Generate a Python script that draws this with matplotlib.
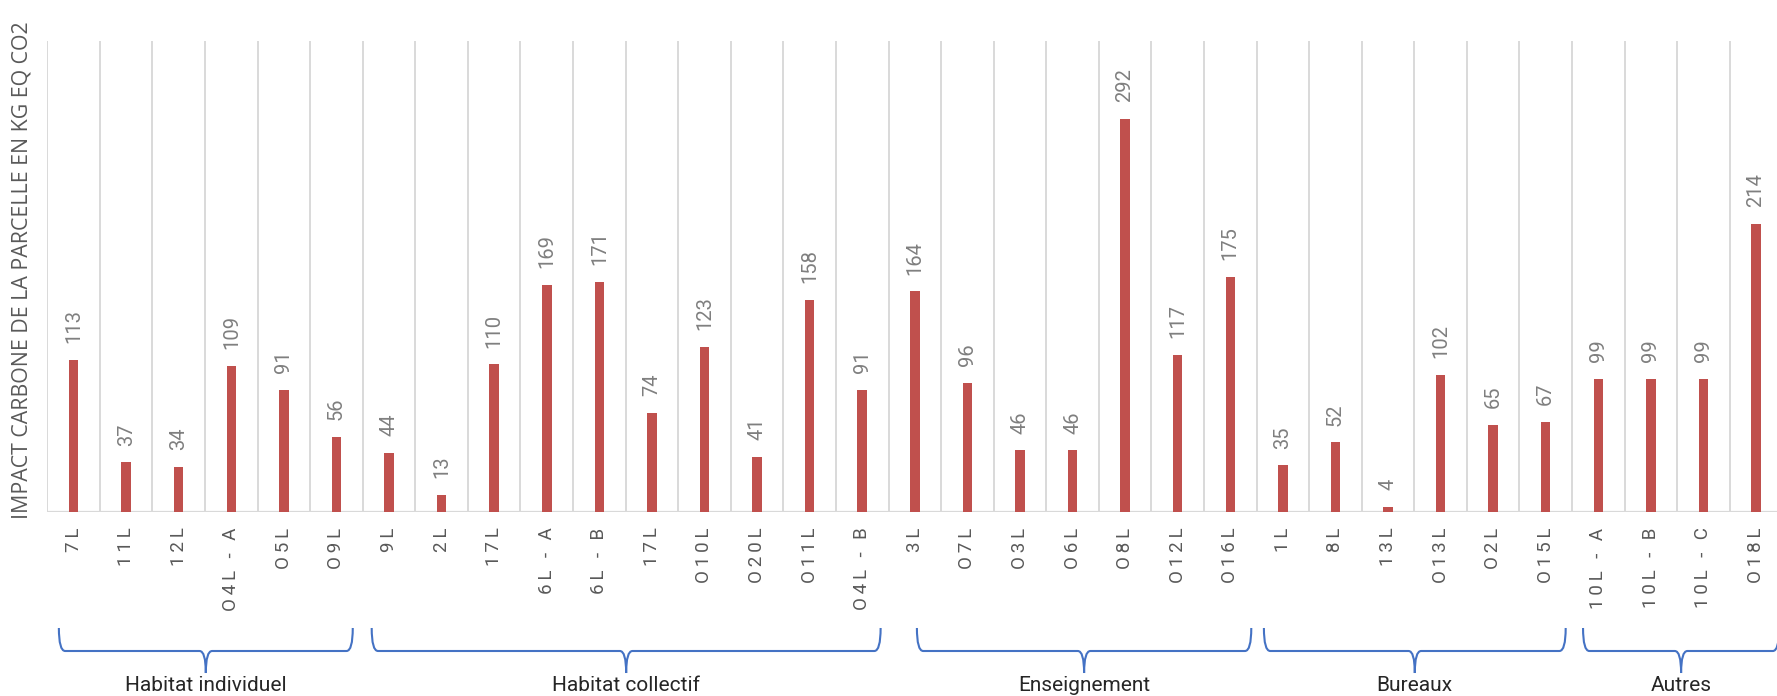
import numpy as np
import matplotlib
matplotlib.use("Agg")
import matplotlib.pyplot as plt
from matplotlib.path import Path
from matplotlib.patches import PathPatch
import matplotlib.transforms as mtransforms

# data
groups = ["Habitat individuel", "Habitat collectif", "Enseignement", "Bureaux", "Autres"]
labels_indiv = ["7L", "11L", "12L", "O4L - A", "O5L", "O9L"]
values_indiv = [113, 37, 34, 109, 91, 56]
labels_coll = ["9L", "2L", "17L", "6L - A", "6L - B", "17L", "O10L", "O20L", "O11L", "O4L - B"]
values_coll = [44, 13, 110, 169, 171, 74, 123, 41, 158, 91]
labels_ens = ["3L", "O7L", "O3L", "O6L", "O8L", "O12L", "O16L"]
values_ens = [164, 96, 46, 46, 292, 117, 175]
labels_bur = ["1L", "8L", "13L", "O13L", "O2L", "O15L"]
values_bur = [35, 52, 4, 102, 65, 67]
labels_aut = ["10L - A", "10L - B", "10L - C", "O18L"]
values_aut = [99, 99, 99, 214]

group_labels = [labels_indiv, labels_coll, labels_ens, labels_bur, labels_aut]
group_values = [values_indiv, values_coll, values_ens, values_bur, values_aut]

labels = sum(group_labels, [])
values = sum(group_values, [])
x = np.arange(len(labels))

bar_color = "#c0504d"
grid_color = "#d9d9d9"
brace_color = "#4472c4"

# brace insets (style), in category units
left_inset = [0.22, 0.17, 0.54, 0.14, 0.21]
right_inset = [0.19, 0.15, 0.10, 0.12, 0.06]


def spaced(s):
    # letter spacing like the original chart
    return "\u2009".join(s)


fig = plt.figure(figsize=(17.77, 6.96), dpi=100)
ax = fig.add_axes([47.3 / 1777, 1 - 512.3 / 696, 1735 / 1777, 471.3 / 696])

ax.bar(x, values, width=0.18, color=bar_color, zorder=3)
for xi, v in zip(x, values):
    ax.annotate(str(v), (xi, v), xytext=(0, 12), textcoords="offset points",
                rotation=90, ha="center", va="bottom", fontsize=14.5,
                color="#7f7f7f", family="Roboto")

for b in np.arange(len(labels) + 1) - 0.5:
    ax.axvline(b, color=grid_color, lw=1.4, zorder=1)
ax.axhline(0, color=grid_color, lw=1.6, zorder=2)

ax.set_xlim(-0.5, len(labels) - 0.5)
ax.set_ylim(0, 350)
for s in ax.spines.values():
    s.set_visible(False)
ax.set_yticks([])
ax.set_xticks(x)
ax.set_xticklabels([spaced(l) for l in labels], rotation=90, fontsize=13.5,
                   color="#595959", family=["Roboto", "DejaVu Sans"], va="top")
ax.tick_params(axis="x", length=0, pad=11)

fig.text(22.5 / 1777, 1 - 270 / 696, "IMPACT CARBONE DE LA PARCELLE EN KG EQ CO2",
         rotation=90, ha="center", va="center", fontsize=15.4, color="#595959",
         family="Open Sans")

# curly braces under groups
trans = mtransforms.blended_transform_factory(ax.transData, fig.transFigure)
y_top = 1 - 628 / 696
y_line = 1 - 651 / 696
y_tip = 1 - 673 / 696
dx = 0.12
start = 0
for g, lab in enumerate(group_labels):
    n = len(lab)
    x0 = start - 0.5 + left_inset[g]
    x1 = start + n - 0.5 - right_inset[g]
    xm = (x0 + x1) / 2
    verts = [(x0, y_top), (x0, y_line), (x0 + dx, y_line),
             (xm - dx, y_line), (xm, y_line), (xm, y_tip),
             (xm, y_line), (xm + dx, y_line),
             (x1 - dx, y_line), (x1, y_line), (x1, y_top)]
    codes = [Path.MOVETO, Path.CURVE3, Path.CURVE3,
             Path.LINETO, Path.CURVE3, Path.CURVE3,
             Path.CURVE3, Path.CURVE3,
             Path.LINETO, Path.CURVE3, Path.CURVE3]
    patch = PathPatch(Path(verts, codes), facecolor="none", edgecolor=brace_color,
                      lw=1.5, transform=trans, clip_on=False)
    fig.add_artist(patch)
    ax.text(xm, 1 - 691 / 696, groups[g], transform=trans, ha="center", va="baseline",
            fontsize=15, color="#262626", family="Roboto", clip_on=False)
    start += n

fig.savefig("out.png", dpi=100)
